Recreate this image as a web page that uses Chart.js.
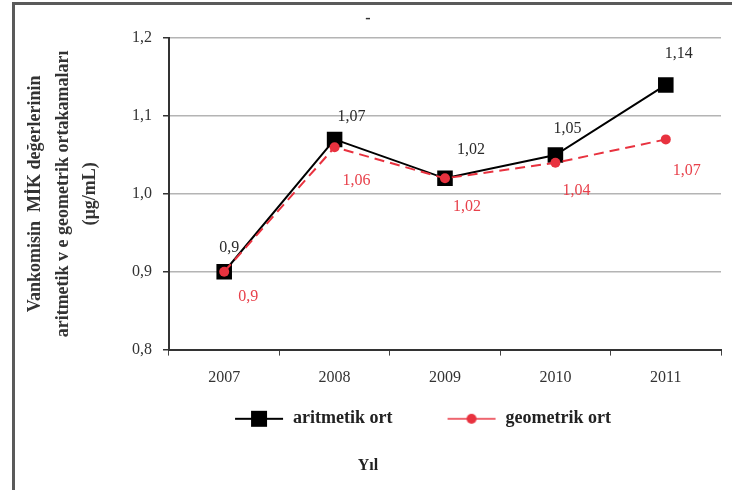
<!DOCTYPE html>
<html>
<head>
<meta charset="utf-8">
<script src="https://cdn.jsdelivr.net/npm/chart.js@4.4.1/dist/chart.umd.min.js"></script>
<style>
    body { margin: 0; background: #fff; }
    #wrap { position: relative; width: 732px; height: 490px; }
    #frame {
        position: absolute; left: 12px; top: 2px; right: 0; bottom: 0;
        border-top: 3px solid #5a5a5a; border-left: 3px solid #5a5a5a;
        pointer-events: none;
    }
</style>
</head>
<body>
<div id="wrap">
    <canvas id="grafico" width="732" height="490"></canvas>
    <div id="frame"></div>
</div>
<script>

const yillar = ["2007", "2008", "2009", "2010", "2011"];
const aritmetikOrt = [0.90, 1.07, 1.02, 1.05, 1.14];
const geometrikOrt = [0.90, 1.06, 1.02, 1.04, 1.07];
const seriAdlari = ["aritmetik ort", "geometrik ort"];
const yEkseniBasligi = ["Vankomisin  MİK değerlerinin", "aritmetik v e geometrik ortakamaları", "(µg/mL)"];
const xEkseniBasligi = "Yıl";
const ustBaslik = "-";

const yaziTipi = "'Liberation Serif', 'Times New Roman', serif";
const kirmizi = "#e8323f";

// legend: line + marker as a small canvas
function legendIsareti(renk, tip) {
    const c = document.createElement("canvas");
    c.width = 52;
    c.height = 18;
    const ctx = c.getContext("2d");
    ctx.strokeStyle = renk;
    ctx.fillStyle = renk;
    ctx.lineWidth = tip === "kare" ? 2 : 1.5;
    ctx.beginPath();
    ctx.moveTo(2, 9);
    ctx.lineTo(50, 9);
    ctx.stroke();
    if (tip === "kare") {
        ctx.fillRect(18, 1, 16, 16);
    } else {
        ctx.beginPath();
        ctx.arc(26, 9, 5, 0, Math.PI * 2);
        ctx.fill();
    }
    return c;
}

const degerEtiketleri = {
    id: "degerEtiketleri",
    afterDatasetsDraw(chart) {
        const ctx = chart.ctx;
        ctx.save();
        ctx.font = "16px " + yaziTipi;
        ctx.textAlign = "center";
        ctx.textBaseline = "middle";
        chart.data.datasets.forEach((ds, i) => {
            const meta = chart.getDatasetMeta(i);
            ctx.fillStyle = ds.etiketRengi;
            meta.data.forEach((nokta, j) => {
                const k = ds.etiketKaydirma[j];
                ctx.fillText(String(ds.data[j]).replace(".", ","), nokta.x + k[0], nokta.y + k[1]);
            });
        });
        ctx.restore();
    }
};

function grafikCiz() {

    const isaretler = [legendIsareti("#000", "kare"), legendIsareti(kirmizi, "daire")];
    const bosluk = [10, 10];

    new Chart(document.getElementById("grafico"), {
        type: "line",
        data: {
            labels: yillar,
            datasets: [
                {
                    label: seriAdlari[0],
                    data: aritmetikOrt,
                    borderColor: "#000",
                    backgroundColor: "#000",
                    borderWidth: 2,
                    pointStyle: "rect",
                    pointRadius: 11,
                    pointBorderWidth: 0,
                    tension: 0,
                    order: 2,
                    etiketRengi: "#2a2a2a",
                    etiketKaydirma: [[5, -24], [17, -23], [26, -29], [12, -26], [13, -31]]
                },
                {
                    label: seriAdlari[1],
                    data: geometrikOrt,
                    borderColor: kirmizi,
                    backgroundColor: kirmizi,
                    borderWidth: 2,
                    borderDash: [10, 6],
                    pointStyle: "circle",
                    pointRadius: 5,
                    pointBorderWidth: 0,
                    tension: 0,
                    order: 1,
                    etiketRengi: "#e8414b",
                    etiketKaydirma: [[24, 25], [22, 34], [22, 28], [21, 28], [21, 31]]
                }
            ]
        },
        options: {
            responsive: false,
            animation: false,
            layout: { padding: { left: 14, right: 10, top: 0, bottom: 0 } },
            scales: {
                x: {
                    offset: true,
                    grid: {
                        offset: true,
                        drawOnChartArea: false,
                        drawTicks: true,
                        tickLength: 6,
                        color: "#444"
                    },
                    border: { color: "#333", width: 2 },
                    ticks: {
                        padding: 13,
                        color: "#333",
                        font: { family: yaziTipi, size: 16 }
                    }
                },
                y: {
                    min: 0.8,
                    max: 1.2,
                    ticks: {
                        stepSize: 0.1,
                        padding: 11,
                        color: "#333",
                        font: { family: yaziTipi, size: 16 },
                        callback: v => v.toFixed(1).replace(".", ",")
                    },
                    grid: {
                        color: "#b4b4b4",
                        lineWidth: 1.5,
                        tickLength: 6,
                        tickColor: "#333"
                    },
                    border: { color: "#333", width: 2 },
                    title: {
                        display: true,
                        text: yEkseniBasligi,
                        color: "#333",
                        font: { family: yaziTipi, size: 18, weight: "bold", lineHeight: 1.55 },
                        padding: { top: 7, bottom: 0 }
                    },
                    afterFit: s => { s.width = 155; }
                }
            },
            plugins: {
                legend: {
                    position: "bottom",
                    fullSize: false,
                    labels: {
                        usePointStyle: true,
                        pointStyleWidth: 50,
                        padding: 9,
                        color: "#222",
                        font: { family: yaziTipi, size: 18, weight: "bold" },
                        generateLabels: () => seriAdlari.map((ad, i) => ({
                            text: ad + " ".repeat(bosluk[i]),
                            pointStyle: isaretler[i],
                            fillStyle: "transparent",
                            strokeStyle: "transparent",
                            lineWidth: 0,
                            hidden: false,
                            datasetIndex: i,
                            fontColor: "#222"
                        }))
                    }
                },
                title: {
                    display: true,
                    position: "bottom",
                    text: xEkseniBasligi,
                    color: "#222",
                    font: { family: yaziTipi, size: 16, weight: "bold" },
                    padding: { top: 18, bottom: 15 }
                },
                subtitle: {
                    display: true,
                    position: "top",
                    text: ustBaslik,
                    color: "#333",
                    font: { family: yaziTipi, size: 16, weight: "bold" },
                    padding: { top: 9, bottom: 10 }
                },
                tooltip: { enabled: false }
            }
        },
        plugins: [degerEtiketleri]
    });
}

document.addEventListener("DOMContentLoaded", function () {
    grafikCiz();
});
</script>
</body>
</html>
